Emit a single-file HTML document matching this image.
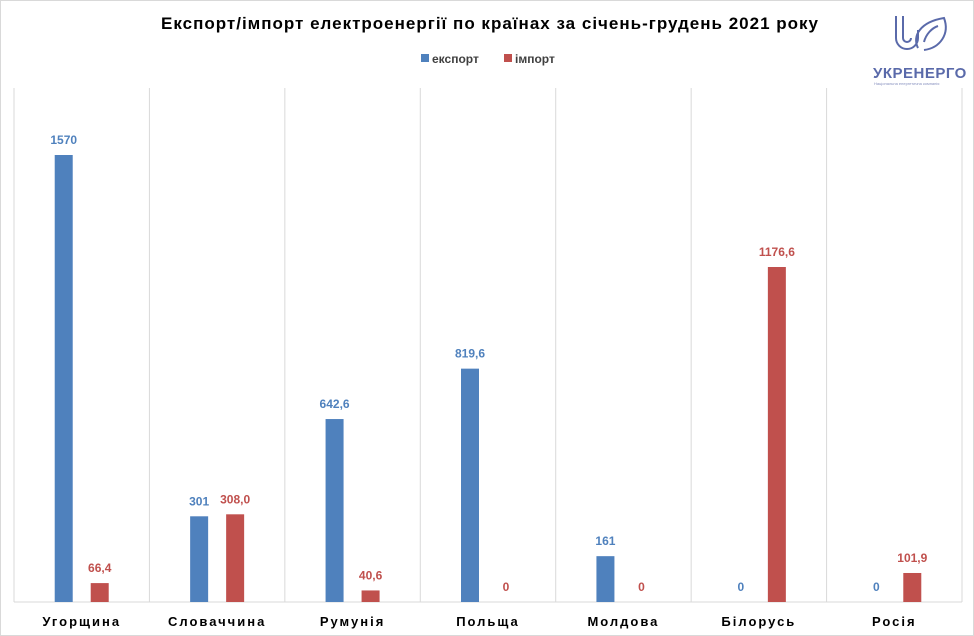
<!DOCTYPE html>
<html><head><meta charset="utf-8"><style>
body{margin:0;background:#fff;}
svg{display:block;font-family:"Liberation Sans","DejaVu Sans",sans-serif;}
</style></head><body>
<svg id="c" width="974" height="636">
<rect x="0.5" y="0.5" width="973" height="635" fill="#fff" stroke="#d9d9d9"/>
<text x="490" y="29" text-anchor="middle" font-size="17" font-weight="bold" letter-spacing="1" fill="#000">Експорт/імпорт електроенергії по країнах за січень-грудень 2021 року</text>
<g>
<rect x="421" y="54" width="8" height="8" fill="#4f81bd"/>
<text x="432" y="63" font-size="12" font-weight="bold" fill="#404040">експорт</text>
<rect x="504" y="54" width="8" height="8" fill="#c0504d"/>
<text x="515" y="63" font-size="12" font-weight="bold" fill="#404040">імпорт</text>
</g>
<g fill="none" stroke="#5a6aaa" stroke-width="2">
<path d="M896 16 V38 a11 11 0 0 0 22 0 V30"/>
<path d="M903 16 V38 a4 4 0 0 0 8 0"/>
<path d="M918 48 C 912 36, 920 22, 944 18 C 950 34, 940 48, 924 50"/>
<path d="M924 42 C 926 34, 932 28, 938 26"/>
</g>
<text x="873" y="78" font-size="15" font-weight="bold" fill="#5a6aaa" letter-spacing="0.5">УКРЕНЕРГО</text>
<text x="874" y="85" font-size="4" fill="#8a93c0">Національна енергетична компанія</text>
<g id="plot"></g>
</svg>
<script>
const categories=["Угорщина","Словаччина","Румунія","Польща","Молдова","Білорусь","Росія"];
const exportVals=[1570,301,642.6,819.6,161,0,0];
const importVals=[66.4,308.0,40.6,0,0,1176.6,101.9];
const exportLabels=["1570","301","642,6","819,6","161","0","0"];
const importLabels=["66,4","308,0","40,6","0","0","1176,6","101,9"];
const NS="http://www.w3.org/2000/svg";
const g=document.getElementById('plot');
const left=14,right=962,base=602,top0=88;
const bw=(right-left)/categories.length;
const y=v=>base-v*(447/1570);
const cx=i=>left+bw*(i+0.5);
function mk(t,a){const e=document.createElementNS(NS,t);for(const k in a)e.setAttribute(k,a[k]);g.appendChild(e);return e;}
for(let i=0;i<=categories.length;i++){
 const l=mk('line',{x1:left+bw*i,x2:left+bw*i,y1:top0,y2:base,stroke:'#d9d9d9'});
 
 
}
const ax=mk('line',{x1:left,x2:right,y1:base,y2:base,stroke:'#d9d9d9'});


categories.forEach((c,i)=>{
 const x=cx(i);
 const b1=mk('rect',{x:x-27,y:y(exportVals[i]),width:18,height:base-y(exportVals[i]),fill:'#4f81bd'});
 
 
 const b2=mk('rect',{x:x+9,y:y(importVals[i]),width:18,height:base-y(importVals[i]),fill:'#c0504d'});
 
 
 const t1=mk('text',{x:x-18,y:y(exportVals[i])-11,'text-anchor':'middle','font-size':12,'font-weight':'bold',fill:'#4f81bd'});
 t1.textContent=exportLabels[i];
 
 
 const t2=mk('text',{x:x+18,y:y(importVals[i])-11,'text-anchor':'middle','font-size':12,'font-weight':'bold',fill:'#c0504d'});
 t2.textContent=importLabels[i];
 
 
 const t3=mk('text',{x:x,y:626,'text-anchor':'middle','font-size':13,'font-weight':'bold','letter-spacing':2,fill:'#000'});
 t3.textContent=c;
 
 
});
</script>
</body></html>
